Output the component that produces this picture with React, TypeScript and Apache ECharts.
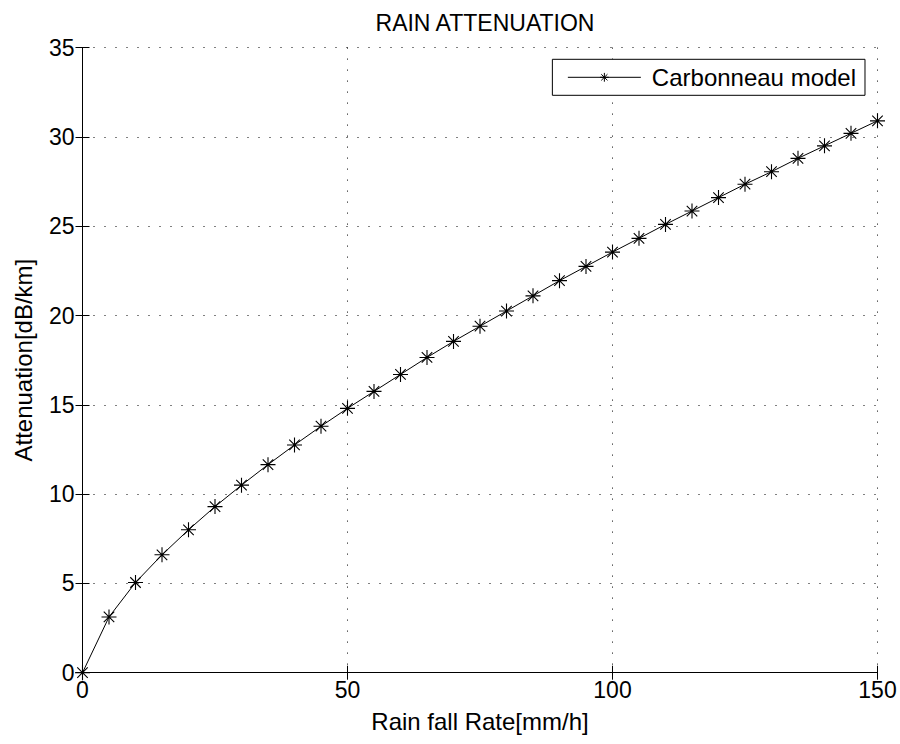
import React, { useEffect, useRef } from "react";
import * as echarts from "echarts";

const rainRate = [0, 5, 10, 15, 20, 25, 30, 35, 40, 45, 50, 55, 60, 65, 70, 75, 80, 85, 90, 95, 100, 105, 110, 115, 120, 125, 130, 135, 140, 145, 150];
const attenuation = [0, 3.12, 5.05, 6.6, 8.0, 9.3, 10.5, 11.65, 12.75, 13.8, 14.8, 15.75, 16.7, 17.65, 18.55, 19.4, 20.25, 21.1, 21.95, 22.75, 23.55, 24.32, 25.1, 25.85, 26.6, 27.35, 28.05, 28.8, 29.5, 30.2, 30.9];
const seriesName = "Carbonneau model";
const titleText = "RAIN ATTENUATION";
const xName = "Rain fall Rate[mm/h]";
const yName = "Attenuation[dB/km]";

const FONT = "Liberation Sans, Arial, Helvetica, sans-serif";
const STAR = "path://M0,-1L0,1M-1,0L1,0M-0.7,-0.7L0.7,0.7M-0.7,0.7L0.7,-0.7";

export default function App() {
  const ref = useRef<HTMLDivElement>(null);
  useEffect(() => {
    document.body.style.margin = "0";
    const chart = echarts.init(ref.current!, null, { renderer: "svg" });
    const axisCommon = {
      axisLine: { show: true, lineStyle: { color: "#000", width: 1 } },
      axisTick: { show: true, inside: true, length: 7, lineStyle: { color: "#000" } },
    };
    const textStyle = { fontFamily: FONT, fontSize: 23, color: "#000" };
    chart.setOption({
      animation: false,
      backgroundColor: "#fff",
      title: {
        text: titleText,
        left: 480,
        textAlign: "center",
        top: 6,
        textStyle: { ...textStyle, fontSize: 23, fontWeight: "normal" },
      },
      grid: { left: 82.5, right: 22.5, top: 47.6, bottom: 71.3, containLabel: false },
      legend: {
        right: 35,
        top: 59.3,
        orient: "horizontal",
        backgroundColor: "#fff",
        borderColor: "#000",
        borderWidth: 1,
        borderRadius: 0,
        padding: [6, 9, 6, 15],
        itemWidth: 73,
        itemHeight: 11,
        itemGap: 6,
        lineStyle: { width: 1, color: "#000" },
        itemStyle: { color: "#000", borderColor: "#000", borderWidth: 1 },
        textStyle: { ...textStyle, fontSize: 24, padding: [0, 0, 0, 6] },
        data: [seriesName],
      },
      xAxis: [
        {
          type: "value",
          min: 0,
          max: 150,
          interval: 50,
          position: "bottom",
          ...axisCommon,
          axisLabel: { ...textStyle, margin: 6 },
          splitLine: { show: true, lineStyle: { color: "#000", type: [1, 10], width: 1 } },
          name: xName,
          nameLocation: "middle",
          nameGap: 37,
          nameTextStyle: { ...textStyle, fontSize: 24 },
        },
        {
          type: "value",
          min: 0,
          max: 150,
          interval: 50,
          position: "top",
          ...axisCommon,
          axisLabel: { show: false },
          splitLine: { show: false },
        },
      ],
      yAxis: [
        {
          type: "value",
          min: 0,
          max: 35,
          interval: 5,
          position: "left",
          ...axisCommon,
          axisLabel: { ...textStyle, margin: 8 },
          splitLine: { show: true, lineStyle: { color: "#000", type: [1, 10], width: 1 } },
          name: yName,
          nameLocation: "middle",
          nameGap: 47,
          nameTextStyle: { ...textStyle, fontSize: 24 },
        },
        {
          type: "value",
          min: 0,
          max: 35,
          interval: 5,
          position: "right",
          ...axisCommon,
          axisLabel: { show: false },
          splitLine: { show: false },
        },
      ],
      series: [
        {
          name: seriesName,
          type: "line",
          xAxisIndex: 0,
          yAxisIndex: 0,
          data: rainRate.map((r, i) => [r, attenuation[i]]),
          symbol: STAR,
          symbolSize: 15,
          showAllSymbol: true,
          lineStyle: { color: "#000", width: 1 },
          itemStyle: { color: "#000", borderColor: "#000", borderWidth: 1.1 },
          clip: false,
        },
      ],
    });
    return () => chart.dispose();
  }, []);
  return <div ref={ref} style={{ width: 900, height: 744 }} />;
}
